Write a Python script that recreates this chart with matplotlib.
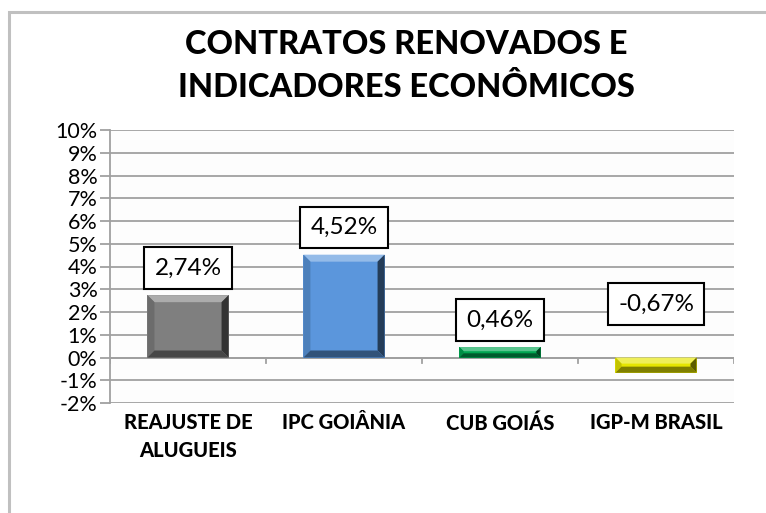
import matplotlib.pyplot as plt
import numpy as np
from matplotlib.patches import Polygon, Rectangle
from matplotlib.ticker import FuncFormatter
import matplotlib.colors as mcolors

plt.rcParams['font.family'] = ['Lato', 'DejaVu Sans']

# Data
categories = ['REAJUSTE DE\nALUGUEIS', 'IPC GOIÂNIA', 'CUB GOIÁS', 'IGP-M BRASIL']
values = [2.74, 4.52, 0.46, -0.67]
colors = ['#7f7f7f', '#5b96dc', '#00a651', '#e6e600']
title = 'CONTRATOS RENOVADOS E\nINDICADORES ECONÔMICOS'

fig = plt.figure(figsize=(7.66, 5.13), dpi=100)

# Outer chart frame (gray border, cut off on right and bottom)
fig.patches.append(Rectangle((9 / 766, -0.1), 1.2, 1 - 12 / 513 + 0.1,
                             transform=fig.transFigure, fill=False,
                             edgecolor='#c0c0c0', linewidth=2.2))

ax = fig.add_axes([110 / 766, 1 - 403 / 513, 624 / 766, 273 / 513])
ax.set_facecolor('#fdfdfd')

x = np.arange(len(values))
width = 0.52
bars = ax.bar(x, values, width=width, color=colors, zorder=3)

ax.set_xlim(-0.5, len(values) - 0.5)
ax.set_ylim(-2, 10)
ax.set_yticks(np.arange(-2, 11, 1))
ax.yaxis.set_major_formatter(FuncFormatter(lambda v, p: f'{v:.0f}%'))
ax.grid(axis='y', color='#a0a0a0', linewidth=1.3, zorder=0)
ax.tick_params(axis='y', length=7, width=1.3, color='#a0a0a0', labelsize=15.5, pad=2)
ax.tick_params(axis='x', length=0)
for s in ['top', 'right', 'bottom']:
    ax.spines[s].set_visible(False)
ax.spines['left'].set_color('#a0a0a0')
ax.spines['left'].set_linewidth(1.3)

# zero line with category separator ticks pointing down
ax.axhline(0, color='#a0a0a0', linewidth=1.3, zorder=2)
for b in np.arange(-0.5, len(values), 1.0):
    ax.plot([b, b], [0, -0.25], color='#a0a0a0', linewidth=1.3, zorder=2)

ax.set_xticks(x)
ax.set_xticklabels([])
for i, c in enumerate(categories):
    ax.text(i, -2.45, c, ha='center', va='top', fontsize=14.5, fontweight='black',
            linespacing=1.55, transform=ax.transData)

# bevel effect on bars
fig.canvas.draw()
px_x = (ax.get_xlim()[1] - ax.get_xlim()[0]) / 624
px_y = (ax.get_ylim()[1] - ax.get_ylim()[0]) / 273
for bar, col in zip(bars, colors):
    x0 = bar.get_x()
    x1 = x0 + bar.get_width()
    y0 = min(bar.get_y(), bar.get_y() + bar.get_height())
    y1 = max(bar.get_y(), bar.get_y() + bar.get_height())
    hpx = (y1 - y0) / px_y
    bpx = min(7, hpx / 2.5)
    bx = bpx * px_x
    by = bpx * px_y
    rgb = np.array(mcolors.to_rgb(col))
    light = np.clip(rgb + (1 - rgb) * 0.35, 0, 1)
    dark = rgb * 0.55
    darker = rgb * 0.4
    top = [(x0, y1), (x1, y1), (x1 - bx, y1 - by), (x0 + bx, y1 - by)]
    left = [(x0, y0), (x0, y1), (x0 + bx, y1 - by), (x0 + bx, y0 + by)]
    right = [(x1, y0), (x1, y1), (x1 - bx, y1 - by), (x1 - bx, y0 + by)]
    bottom = [(x0, y0), (x1, y0), (x1 - bx, y0 + by), (x0 + bx, y0 + by)]
    for pts, fc in [(top, light), (left, rgb * 0.85), (right, darker), (bottom, dark)]:
        ax.add_patch(Polygon(pts, closed=True, facecolor=fc, edgecolor='none', zorder=4))

# data labels
for i, v in enumerate(values):
    off = 12 if v >= 0 else 31
    ax.annotate(f'{v:.2f}%'.replace('.', ','), (i, max(v, 0)), xytext=(0, off),
                textcoords='offset points', ha='center', va='bottom', fontsize=17.5,
                bbox=dict(boxstyle='square,pad=0.42', facecolor='white',
                          edgecolor='black', linewidth=1.5), zorder=6)

fig.text(406 / 766, 1 - 66 / 513, title, ha='center', va='center', fontsize=23.5,
         fontweight='black', linespacing=1.5)

fig.savefig('out.png', dpi=100)
